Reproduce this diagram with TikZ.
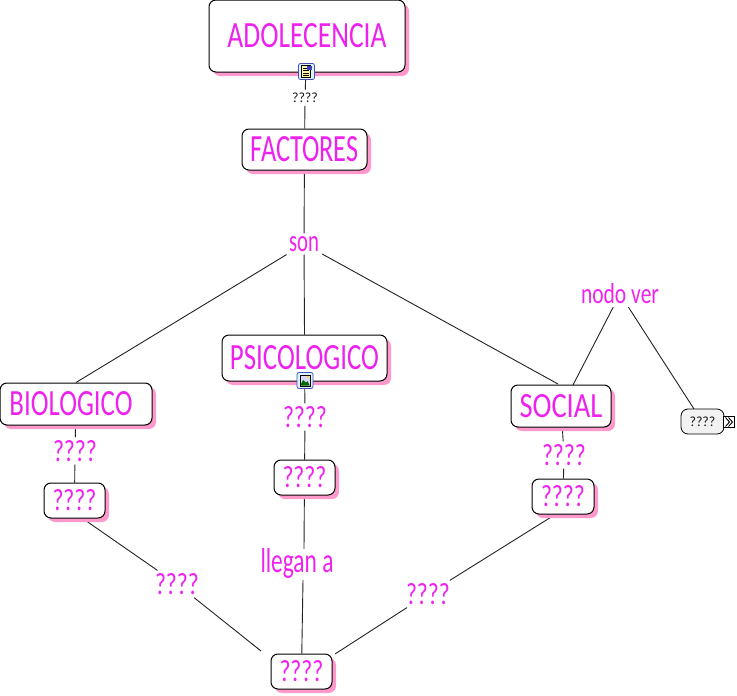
\documentclass[tikz,border=0pt]{standalone}
\usepackage{fontspec}
\usepackage{graphicx}
\usetikzlibrary{backgrounds}
\setmainfont{Carlito}
\definecolor{hand}{HTML}{EE22EE}
\definecolor{shade}{HTML}{FF99CC}
\definecolor{linecol}{HTML}{222222}
\newcommand{\fit}[3]{\resizebox{#1pt}{#2pt}{\textcolor{hand}{#3}}}
\tikzset{
 concept/.style={draw=black,line width=1pt,rounded corners=7pt,fill=white,inner sep=0pt,
   minimum width=#1,
   preaction={draw=none,fill=shade,transform canvas={xshift=4pt,yshift=-4pt}}},
 link/.style={inner sep=0pt,outer sep=3pt},
 conn/.style={draw=linecol,line width=.9pt},
 small/.style={font=\fontsize{14}{14}\selectfont,text=black!90}
}
\begin{document}
\begin{tikzpicture}[x=1pt,y=-1pt]
\useasboundingbox (0,0) rectangle (737,696);
% labels
\node[link,small] (l0) at (305,98) {????};
\node[link] (son) at (304,244) {\fit{30}{15}{son}};
\node[link] (ver) at (620,294) {\fit{78}{20}{nodo ver}};
\node[link] (l1) at (75,451) {\fit{44}{21}{????}};
\node[link] (l2) at (305,417) {\fit{44}{21}{????}};
\node[link] (l3) at (564,455) {\fit{44}{21}{????}};
\node[link] (lleg) at (297,563) {\fit{73}{24}{llegan a}};
\node[link] (l4) at (177,584) {\fit{44}{21}{????}};
\node[link] (l5) at (428,594) {\fit{44}{21}{????}};
% concepts
\node[concept=196pt,minimum height=72pt] (ado) at (307,36) {\raisebox{2pt}{\fit{159}{24}{ADOLECENCIA}}};
\node[concept=125pt,minimum height=41pt] (fac) at (304.5,149.5) {\fit{108}{25}{FACTORES}};
\node[concept=165pt,minimum height=46pt] (psi) at (304.5,358) {\fit{149}{24}{PSICOLOGICO}};
\node[concept=152pt,minimum height=42pt] (bio) at (76,404) {\hspace*{-10pt}\fit{123}{24}{BIOLOGICO}};
\node[concept=100pt,minimum height=42pt] (soc) at (561,406) {\fit{83}{23}{SOCIAL}};
\node[concept=61pt,minimum height=35pt] (n1) at (74.5,500.5) {\fit{44}{21}{????}};
\node[concept=61pt,minimum height=35pt] (n2) at (304.5,477.5) {\fit{44}{21}{????}};
\node[concept=62pt,minimum height=35pt] (n3) at (563,496.5) {\fit{44}{21}{????}};
\node[concept=61pt,minimum height=35pt] (n4) at (301.5,671.5) {\fit{44}{21}{????}};
\node[draw=black,line width=.8pt,rounded corners=7pt,fill=blue!3!gray!10,minimum width=43pt,minimum height=25pt,inner sep=0pt,small] (gray) at (702.5,421.5) {????};
\node[draw=black,fill=white,line width=.7pt,minimum size=11pt,inner sep=0pt] (exp) at (729,422) {};
\draw[line width=.9pt] (725.5,417.5) -- (729.5,422) -- (725.5,426.5) (728.5,417.5) -- (732.5,422) -- (728.5,426.5);
% free ends
\coordinate (socA) at (573,385);
\coordinate (socB) at (558,384);
\coordinate (grayT) at (694,409);
\coordinate (n1E) at (82,518);
\coordinate (n3E) at (556,514);
\coordinate (n4W) at (261,651);
\coordinate (n4E) at (335,654);
\coordinate (llegT) at (304,549);
\coordinate (llegB) at (303,580);
% connectors
\begin{pgfonlayer}{background}
\draw[conn] (ado) -- (l0);
\draw[conn] (l0) -- (fac);
\draw[conn] (fac) -- (son);
\draw[conn] (son) -- (bio.north);
\draw[conn] (son) -- (psi.north);
\draw[conn] (son) -- (socB);
\draw[conn] (ver) -- (socA);
\draw[conn] (ver) -- (grayT);
\draw[conn] (bio) -- (l1);
\draw[conn] (l1) -- (n1);
\draw[conn] (psi) -- (l2);
\draw[conn] (l2) -- (n2);
\draw[conn] (soc) -- (l3);
\draw[conn] (l3) -- (n3);
\draw[conn] (n2) -- (llegT);
\draw[conn] (llegB) -- (n4);
\draw[conn] (n1E) -- (l4);
\draw[conn] (l4) -- (n4W);
\draw[conn] (n3E) -- (l5);
\draw[conn] (l5) -- (n4E);
\end{pgfonlayer}
% icons
\node[draw=blue!60!black!70,fill=cyan!15,line width=.8pt,rounded corners=2pt,minimum size=16pt,inner sep=0pt] (ic1) at (306.5,71.5) {};
\fill[yellow!40,draw=black,line width=.5pt] (301.5,65.5) rectangle (310,77.5);
\draw[line width=.5pt] (303,68)--(308,68) (303,70.5)--(309,70.5) (303,73)--(309,73) (303,75.5)--(309,75.5);
\fill[blue!50!gray] (307,65.5) rectangle (312,70);
\node[draw=blue!60!black!70,fill=cyan!15,line width=.8pt,rounded corners=2pt,minimum size=16pt,inner sep=0pt] (ic2) at (305,380.5) {};
\fill[blue!15,draw=black,line width=.5pt] (300,375) rectangle (310,386);
\fill[green!40!black] (300.3,385.7) -- (303,380) -- (306,382.5) -- (307.5,381) -- (309.7,385.7) -- cycle;
\fill[yellow!80!orange] (308,377) circle (1.3pt);
\end{tikzpicture}
\end{document}
